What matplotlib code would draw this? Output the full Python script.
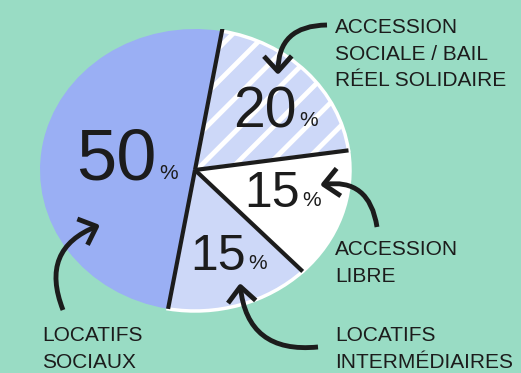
import numpy as np
import matplotlib.pyplot as plt
from matplotlib.patches import FancyArrowPatch

#%% DONNÉES
parts = [20, 15, 15, 50]
noms = ["ACCESSION SOCIALE / BAIL RÉEL SOLIDAIRE", "ACCESSION LIBRE",
        "LOCATIFS INTERMÉDIAIRES", "LOCATIFS SOCIAUX"]
etiquettes = [["ACCESSION", "SOCIALE / BAIL", "RÉEL SOLIDAIRE"],
              ["ACCESSION", "LIBRE"],
              ["LOCATIFS", "INTERMÉDIAIRES"],
              ["LOCATIFS", "SOCIAUX"]]

#%% STYLE
fond = "#99dcc4"
couleurs = ["#cdd8f8", "#ffffff", "#cdd8f8", "#9aaff4"]
noir = "#1c1c1c"
plt.rcParams['hatch.linewidth'] = 3.5

W, H = 521, 373
fig = plt.figure(figsize=(W/100, H/100), dpi=100, facecolor=fond)

#%% CAMEMBERT (ellipse)
cx, cy, rx, ry = 195, 170, 155, 141
axp = fig.add_axes([(cx-rx)/W, (H-cy-ry)/H, 2*rx/W, 2*ry/H])
wedges, _ = axp.pie(parts, colors=couleurs, startangle=80, counterclock=False,
                    wedgeprops=dict(edgecolor="white", linewidth=2.5))
wedges[0].set_hatch("/")
wedges[3].set_edgecolor("none")
axp.set_aspect("auto")
axp.set_xlim(-1, 1)
axp.set_ylim(-1, 1)
axp.axis("off")

# traits noirs entre les parts
bornes = 80 - 360*np.cumsum([0] + parts[:-1])/100.0
for i, a in enumerate(bornes):
    r = 1.04 if i == 0 else 1.0
    t = np.deg2rad(a)
    axp.plot([0, r*np.cos(t)], [0, r*np.sin(t)], color=noir, lw=3,
             solid_capstyle="butt", zorder=5)

#%% TEXTES
ax = fig.add_axes([0, 0, 1, 1])
ax.set_xlim(0, W)
ax.set_ylim(H, 0)
ax.axis("off")
ax.patch.set_alpha(0)

fnum = ["Liberation Sans", "DejaVu Sans"]
flab = ["Liberation Sans", "DejaVu Sans"]

# pourcentages : (x, y, taille)
pos_pct = [(233, 127, 41), (244, 207, 36), (190, 270, 36), (76, 180, 52)]
renderer = fig.canvas.get_renderer()
for p, (x, y, s) in zip(parts, pos_pct):
    t = ax.text(x, y, str(p), fontsize=s, family=fnum, color=noir,
                va="baseline", ha="left")
    bb = t.get_window_extent(renderer)
    xp = ax.transData.inverted().transform((bb.x1, 0))[0] + 3
    ax.text(xp, y - 1, "%", fontsize=15, family=flab, color=noir,
            va="baseline", ha="left")

pos_lab = [(335, 33), (335, 255), (335, 341), (42, 341)]
for lignes, (x, y) in zip(etiquettes, pos_lab):
    for k, l in enumerate(lignes):
        ax.text(x, y + 26.5*k, l, fontsize=15, family=flab, color=noir,
                va="baseline", ha="left")

# flèches courbes
fleches = [((327, 25), (278, 75), 0.5),
           ((377, 227), (320, 185), 0.5),
           ((318, 347), (240, 283), -0.5),
           ((63, 310), (100, 225), -0.5)]
for a, b, rad in fleches:
    fl = FancyArrowPatch(a, b, connectionstyle="arc3,rad=%s" % rad,
                         arrowstyle="->,head_length=0.55,head_width=0.5",
                         mutation_scale=20, lw=3.5, color=noir,
                         shrinkA=0, shrinkB=0, capstyle="butt")
    ax.add_patch(fl)

plt.savefig("out.png", dpi=100, facecolor=fond)
